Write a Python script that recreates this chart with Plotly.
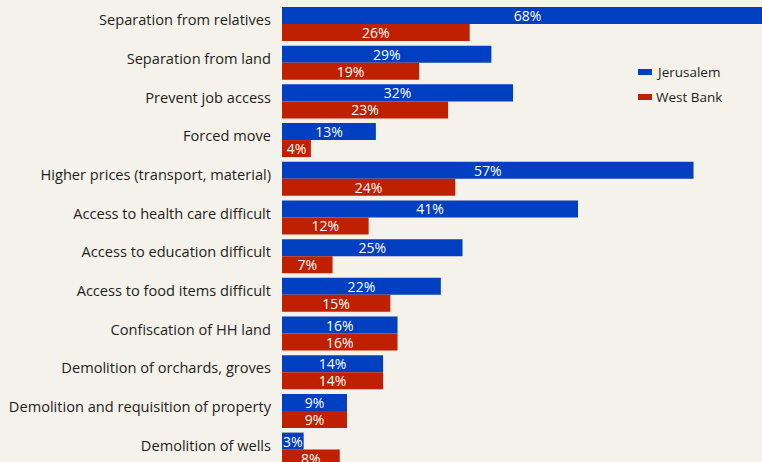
import plotly.graph_objects as go

categories = [
    "Separation from relatives",
    "Separation from land",
    "Prevent job access",
    "Forced move",
    "Higher prices (transport, material)",
    "Access to health care difficult",
    "Access to education difficult",
    "Access to food items difficult",
    "Confiscation of HH land",
    "Demolition of orchards, groves",
    "Demolition and requisition of property",
    "Demolition of wells",
]
jerusalem = [68, 29, 32, 13, 57, 41, 25, 22, 16, 14, 9, 3]
west_bank = [26, 19, 23, 4, 24, 12, 7, 15, 16, 14, 9, 8]
series_names = ["Jerusalem", "West Bank"]

BLUE = "#0040C0"
RED = "#BF2000"
BG = "#F5F1EB"
FONT = "Open Sans"
TXT = "#231F20"

W, H = 762, 462
L = 282

fig = go.Figure()
for name, vals, col in [(series_names[0], jerusalem, BLUE), (series_names[1], west_bank, RED)]:
    fig.add_trace(go.Bar(
        y=categories, x=vals, name=name, orientation="h",
        marker=dict(color=col, line=dict(width=0)),
        text=[f"{v}%" for v in vals], textposition="inside",
        insidetextanchor="middle", constraintext="none",
        textfont=dict(color="white", size=14, family=FONT),
        cliponaxis=True, showlegend=False, hoverinfo="skip",
    ))

# legend (custom swatches)
def px_x(px):
    return (px - L) / (W - L)

def px_y(py):
    return 1 - py / H

for i, (name, col) in enumerate(zip(series_names, [BLUE, RED])):
    cy = 72 + 25 * i
    fig.add_shape(type="rect", xref="paper", yref="paper",
                  x0=px_x(638), x1=px_x(652), y0=px_y(cy + 3), y1=px_y(cy - 3),
                  fillcolor=col, line=dict(width=0))
    fig.add_annotation(xref="paper", yref="paper", x=px_x(654), y=px_y(cy),
                       text=name, showarrow=False, xanchor="left", yanchor="middle",
                       font=dict(size=13.5, color=TXT, family=FONT))

fig.update_layout(
    width=W, height=H,
    margin=dict(l=L, r=0, t=0, b=0),
    paper_bgcolor=BG, plot_bgcolor=BG,
    barmode="group", bargap=0.12, bargroupgap=0,
    font=dict(family=FONT, size=14, color=TXT),
    showlegend=False,
    xaxis=dict(range=[0, 480 / 7.22], visible=False, showgrid=False, zeroline=False),
    yaxis=dict(range=[11.32, -0.62], showgrid=False, zeroline=False,
               ticks="", ticklabelstandoff=10, ticklabelshift=4, automargin=False,
               tickfont=dict(size=14.6, color=TXT)),
)

fig.write_html("out.html", config={"displayModeBar": False, "staticPlot": True},
               post_script="document.body.style.margin='0';document.body.style.background='%s';" % BG)
